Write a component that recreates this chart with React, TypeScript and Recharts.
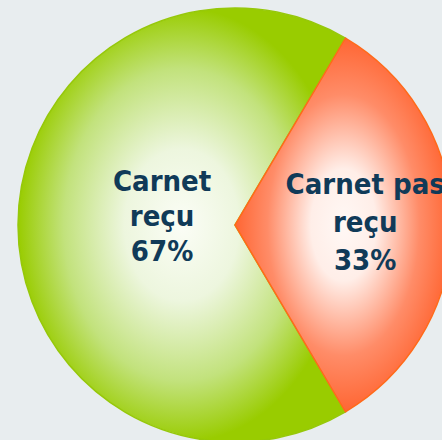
import { PieChart, Pie, Cell } from "recharts";

const names = ["Carnet reçu", "Carnet pas reçu"];
const values = [67, 33];
const labelLines = [["Carnet", "reçu"], ["Carnet pas", "reçu"]];

const data = names.map((name, i) => ({ name, value: values[i] }));

const gradIds = ["gradGreen", "gradOrange"];
const strokes = ["#96c80a", "#ff6a1a"];
// label placement: fraction of radius along mid angle, line height, baseline shift
const labelStyle = [
  { r: 0.336, lh: 35, shift: 1 },
  { r: 0.6, lh: 38, shift: 7 },
];

const RADIAN = Math.PI / 180;

function renderLabel(props: any) {
  const { cx, cy, midAngle, outerRadius, index, percent } = props;
  const s = labelStyle[index];
  const x = cx + outerRadius * s.r * Math.cos(-midAngle * RADIAN);
  const y = cy + outerRadius * s.r * Math.sin(-midAngle * RADIAN) + s.shift;
  const lines = [...labelLines[index], `${Math.round(percent * 100)}%`];
  return (
    <text
      x={x}
      y={y - s.lh}
      textAnchor="middle"
      fill="#103a58"
      style={{
        fontFamily: "'DejaVu Sans Condensed', 'DejaVu Sans', sans-serif",
        fontStretch: "condensed",
        fontWeight: 700,
        fontSize: 29,
      }}
    >
      {lines.map((l, i) => (
        <tspan key={i} x={x} dy={i === 0 ? 0 : s.lh}>
          {l}
        </tspan>
      ))}
    </text>
  );
}

export default function App() {
  return (
    <div
      style={{
        position: "absolute",
        left: 0,
        top: 0,
        width: 442,
        height: 440,
        background: "#e8edef",
        overflow: "hidden",
      }}
    >
      <PieChart width={442} height={440} margin={{ top: 0, right: 0, bottom: 0, left: 0 }}>
        <defs>
          <radialGradient id="gradGreen" cx="0.5" cy="0.5" r="0.5">
            <stop offset="0" stopColor="#fbfdf6" />
            <stop offset="0.35" stopColor="#edf6de" />
            <stop offset="0.72" stopColor="#c2e27c" />
            <stop offset="1" stopColor="#99cc00" />
          </radialGradient>
          <radialGradient id="gradOrange" cx="0.5" cy="0.5" r="0.5">
            <stop offset="0" stopColor="#fff8f5" />
            <stop offset="0.3" stopColor="#ffeee8" />
            <stop offset="0.7" stopColor="#ff8c68" />
            <stop offset="1" stopColor="#ff6633" />
          </radialGradient>
        </defs>
        <Pie
          data={data}
          dataKey="value"
          nameKey="name"
          cx={235}
          cy={225}
          innerRadius={0}
          outerRadius={217}
          startAngle={59.4}
          endAngle={419.4}
          label={renderLabel}
          labelLine={false}
          isAnimationActive={false}
        >
          {data.map((d, i) => (
            <Cell key={d.name} fill={`url(#${gradIds[i]})`} stroke={strokes[i]} strokeWidth={1.5} />
          ))}
        </Pie>
      </PieChart>
    </div>
  );
}
